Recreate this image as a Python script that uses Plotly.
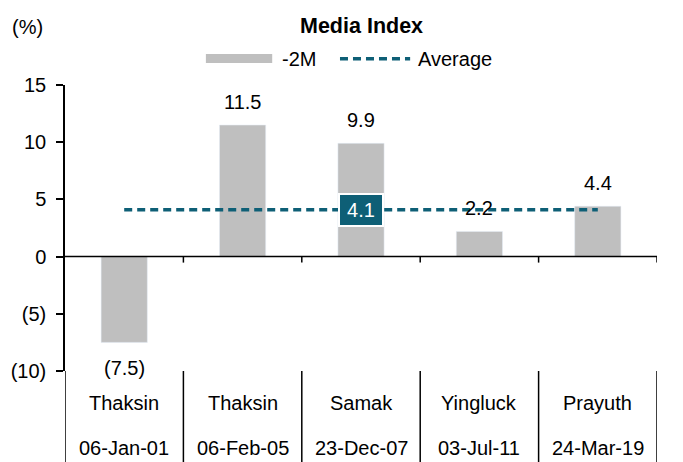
import plotly.graph_objects as go

# ---- data ----
leaders = ["Thaksin", "Thaksin", "Samak", "Yingluck", "Prayuth"]
dates = ["06-Jan-01", "06-Feb-05", "23-Dec-07", "03-Jul-11", "24-Mar-19"]
change_2m = [-7.5, 11.5, 9.9, 2.2, 4.4]
average = 4.1
y_tickvals = [-10, -5, 0, 5, 10, 15]
y_ticktext = ["(10)", "(5)", "0", "5", "10", "15"]

BAR = "#BFBFBF"
TEAL = "#0E5F76"
FONT = "Liberation Sans, Arial, sans-serif"
FS = 20

x_idx = list(range(len(leaders)))

fig = go.Figure()
fig.add_trace(go.Bar(x=x_idx, y=change_2m, marker_color=BAR, width=0.39,
                     showlegend=False, hoverinfo="skip"))
fig.add_trace(go.Scatter(x=[x_idx[0], x_idx[-1]], y=[average, average], mode="lines",
                         line=dict(color=TEAL, width=3.5, dash="8px,5px"),
                         showlegend=False, hoverinfo="skip"))

ann = []
# value labels
for i, v in enumerate(change_2m):
    txt = f"({abs(v):.1f})" if v < 0 else f"{v:.1f}"
    ann.append(dict(x=i, y=v, xref="x", yref="y", text=txt, showarrow=False,
                    yanchor="middle", yshift=(23 if v >= 0 else -26),
                    font=dict(size=FS, color="black", family=FONT)))
# average label
ann.append(dict(x=(x_idx[0] + x_idx[-1]) / 2, y=average, xref="x", yref="y",
                text=f"{average:.1f}", showarrow=False, bgcolor=TEAL,
                bordercolor="white", borderwidth=2, borderpad=4,
                width=34, font=dict(size=FS, color="white", family=FONT)))
# category labels
for i in x_idx:
    ann.append(dict(x=i, y=-0.112, xref="x", yref="paper", text=leaders[i],
                    showarrow=False, yanchor="middle",
                    font=dict(size=FS, color="black", family=FONT)))
    ann.append(dict(x=i, y=-0.269, xref="x", yref="paper", text=dates[i],
                    showarrow=False, yanchor="middle",
                    font=dict(size=FS, color="black", family=FONT)))
# title, unit
ann.append(dict(x=0.5, y=1.205, xref="paper", yref="paper", text="<b>Media Index</b>",
                showarrow=False, yanchor="middle",
                font=dict(size=21.5, color="black", family=FONT)))
ann.append(dict(x=-0.093, y=1.203, xref="paper", yref="paper", text="(%)",
                showarrow=False, xanchor="left", yanchor="middle",
                font=dict(size=FS, color="black", family=FONT)))
# legend texts
ann.append(dict(x=0.363, y=1.091, xref="paper", yref="paper", text="-2M",
                showarrow=False, xanchor="left", yanchor="middle",
                font=dict(size=FS, color="black", family=FONT)))
ann.append(dict(x=0.593, y=1.091, xref="paper", yref="paper", text="Average",
                showarrow=False, xanchor="left", yanchor="middle",
                font=dict(size=FS, color="black", family=FONT)))

shapes = []
# legend swatches
shapes.append(dict(type="rect", xref="paper", yref="paper", x0=0.238, x1=0.350,
                   y0=1.077, y1=1.108, fillcolor=BAR, line=dict(width=0)))
shapes.append(dict(type="line", xref="paper", yref="paper", x0=0.4645, x1=0.583,
                   y0=1.092, y1=1.092, line=dict(color=TEAL, width=3.5, dash="8px,5px")))
# zero line
shapes.append(dict(type="line", xref="paper", yref="y", x0=0, x1=1, y0=0, y1=0,
                   line=dict(color="black", width=1.5)))
# boundary ticks at zero line and separators in label area
for k in range(len(leaders)):
    b = k + 0.5
    shapes.append(dict(type="line", xref="x", yref="y", x0=b, x1=b,
                       ysizemode="pixel", yanchor=0, y0=0, y1=-6,
                       line=dict(color="black", width=1.5)))
    shapes.append(dict(type="line", xref="x", yref="paper", x0=b, x1=b,
                       y0=0, y1=-0.34, line=dict(color="black", width=1.5)))
# left axis extension
shapes.append(dict(type="line", xref="x", yref="paper", x0=-0.5, x1=-0.5,
                   y0=0, y1=-0.34, line=dict(color="black", width=1.5)))

fig.update_layout(
    width=675, height=454,
    margin=dict(l=57, r=26, t=77, b=91, autoexpand=False),
    paper_bgcolor="white", plot_bgcolor="white",
    font=dict(family=FONT, size=FS, color="black"),
    xaxis=dict(range=[-0.5, 4.5], showgrid=False, zeroline=False,
               showticklabels=False, ticks="", showline=False, automargin=False),
    yaxis=dict(range=[-10, 15], tickvals=y_tickvals, ticktext=y_ticktext,
               showgrid=False, zeroline=False, showline=True, linecolor="black",
               linewidth=1.5, ticks="outside", ticklen=7, tickwidth=1.5,
               tickcolor="black", ticklabelstandoff=6, automargin=False,
               tickfont=dict(size=FS, family=FONT, color="black")),
    annotations=ann, shapes=shapes, showlegend=False,
)

fig.write_html("out.html")
